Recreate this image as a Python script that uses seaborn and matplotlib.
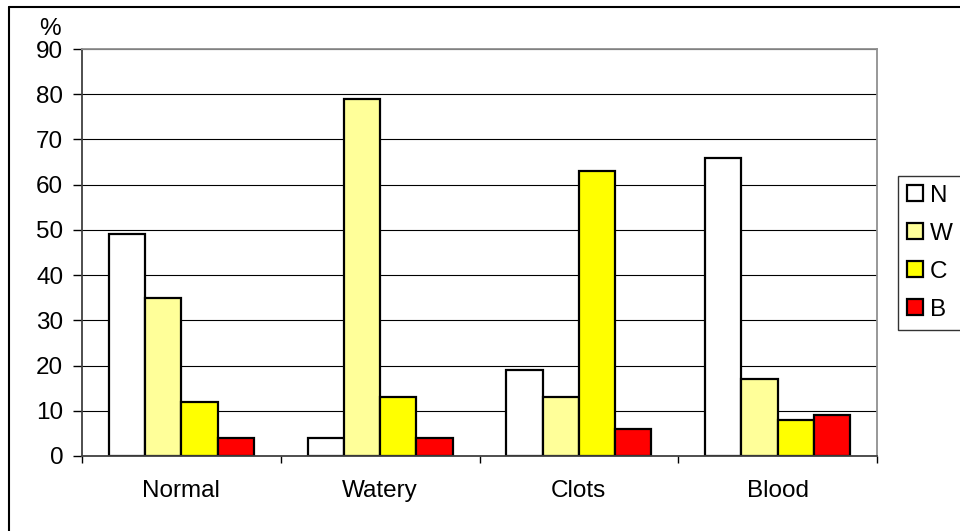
import matplotlib
matplotlib.use("Agg")
import matplotlib.pyplot as plt
from matplotlib.lines import Line2D
import numpy as np
import pandas as pd
import seaborn as sns

categories = ["Normal", "Watery", "Clots", "Blood"]
series = ["N", "W", "C", "B"]
n_vals = [49, 4, 19, 66]
w_vals = [35, 79, 13, 17]
c_vals = [12, 13, 63, 8]
b_vals = [4, 4, 6, 9]
colors = ["#FFFFFF", "#FFFF99", "#FFFF00", "#FF0000"]
y_ticks = [0, 10, 20, 30, 40, 50, 60, 70, 80, 90]

rows = []
for name, vals in zip(series, [n_vals, w_vals, c_vals, b_vals]):
    for cat, v in zip(categories, vals):
        rows.append({"category": cat, "series": name, "value": v})
df = pd.DataFrame(rows)

sns.set_theme(style="white")
plt.rcParams["font.family"] = ["Liberation Sans", "DejaVu Sans"]
FS = 17.5

W, H = 960, 531
fig = plt.figure(figsize=(W / 100, H / 100), dpi=100)
ax = fig.add_axes([82 / W, 1 - 456 / H, (877 - 82) / W, (456 - 49) / H])

sns.barplot(data=df, x="category", y="value", hue="series", order=categories,
            hue_order=series, palette=colors, width=0.73, gap=0,
            edgecolor="black", linewidth=1.6, saturation=1, ax=ax, legend=True)

ax.set_ylim(0, 90)
ax.set_xlim(-0.5, 3.5)
ax.set_yticks(y_ticks)
ax.set_yticklabels([str(t) for t in y_ticks], fontsize=FS, color="black")
ax.set_xlabel("")
ax.set_ylabel("")
ax.set_xticks(range(len(categories)))
ax.set_xticklabels(categories)
ax.tick_params(axis="x", which="major", length=0, labelsize=FS, labelcolor="black", pad=17)
ax.set_xticks([-0.5, 0.5, 1.5, 2.5, 3.5], minor=True)
ax.tick_params(axis="x", which="minor", length=5, width=1, color="black",
               direction="out", bottom=True)
ax.tick_params(axis="y", length=6.5, width=1, color="black", direction="out",
               left=True, pad=7)

ax.yaxis.grid(True, color="black", linewidth=0.8)
ax.set_axisbelow(True)
for side in ["left", "bottom"]:
    ax.spines[side].set_color("#404040")
    ax.spines[side].set_linewidth(1.3)
for side in ["top", "right"]:
    ax.spines[side].set_color("#909090")
    ax.spines[side].set_linewidth(1.3)

ax.text((50 - 82) / (877 - 82), (456 - 35) / (456 - 49), "%", transform=ax.transAxes,
        ha="center", va="baseline", fontsize=FS, color="black")

handles, labels = ax.get_legend_handles_labels()
ax.get_legend().remove()
leg = fig.legend(handles, labels, loc="upper left", bbox_to_anchor=(898 / W, 1 - 176 / H),
                 fontsize=FS, frameon=True, fancybox=False, handlelength=0.65,
                 handleheight=0.65, handletextpad=0.3, labelspacing=0.66,
                 borderpad=0.36, borderaxespad=0)
leg.get_frame().set_edgecolor("black")
leg.get_frame().set_linewidth(1.0)
for t in leg.get_texts():
    t.set_color("black")

# chart-area border on the left and top edges
fig.add_artist(Line2D([9 / W, 9 / W], [0, 1 - 7 / H], transform=fig.transFigure,
                      color="black", linewidth=1.5))
fig.add_artist(Line2D([9 / W, 1], [1 - 7 / H, 1 - 7 / H], transform=fig.transFigure,
                      color="black", linewidth=1.5))

fig.savefig("out.png", dpi=100)
